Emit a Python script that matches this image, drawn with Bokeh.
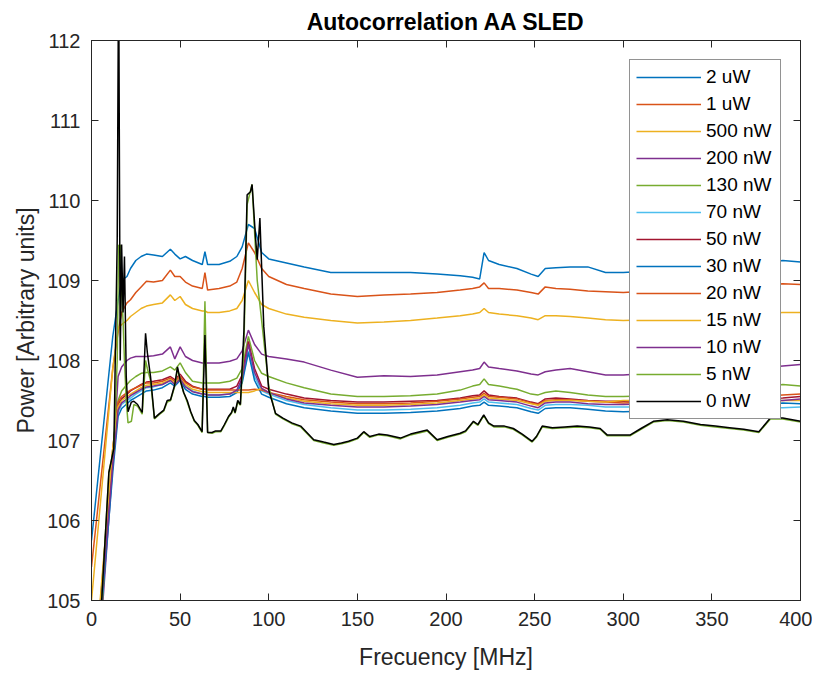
from bokeh.plotting import figure
from bokeh.models import LinearAxis, Legend, LegendItem, FixedTicker, Range1d
from bokeh.embed import file_html
from bokeh.resources import INLINE

# ---------------- data ----------------
x_ticks = [0, 50, 100, 150, 200, 250, 300, 350, 400]
y_ticks = [105, 106, 107, 108, 109, 110, 111, 112]

labels = ["2 uW", "1 uW", "500 nW", "200 nW", "130 nW", "70 nW", "50 nW",
          "30 nW", "20 nW", "15 nW", "10 nW", "5 nW", "0 nW"]

# common frequency grid (MHz) for the smoother traces
freq = [0, 12, 15, 17, 20, 22, 25, 28, 31, 35,
        40, 44.5, 47, 50, 53, 57, 62.5, 64, 65.5, 72,
        78, 82, 85, 88.5, 92, 96, 100, 110, 120, 135,
        150, 165, 180, 195, 208, 215, 219, 221.5, 224, 230,
        240, 248, 252, 256, 262, 270, 280, 290, 300, 315,
        330, 345, 360, 375, 390, 400]

p_2uW = [105.75, 108.3, 108.75, 109.0, 109.05, 109.15, 109.25, 109.3, 109.33, 109.32,
         109.3, 109.39, 109.33, 109.27, 109.3, 109.25, 109.2, 109.36, 109.2, 109.2,
         109.24, 109.3, 109.42, 109.7, 109.65, 109.35, 109.27, 109.22, 109.17, 109.1,
         109.1, 109.1, 109.1, 109.08, 109.06, 109.04, 109.02, 109.35, 109.25, 109.2,
         109.15, 109.08, 109.05, 109.15, 109.16, 109.17, 109.17, 109.1, 109.1, 109.12,
         109.14, 109.16, 109.18, 109.2, 109.25, 109.23]

p_1uW = [105.42, 107.9, 108.35, 108.6, 108.72, 108.76, 108.85, 108.92, 108.99, 108.98,
         109.0, 109.13, 109.05, 109.05, 108.98, 108.93, 108.9, 109.1, 108.88, 108.9,
         108.93, 108.98, 109.15, 109.47, 109.35, 109.15, 109.05, 108.95, 108.9, 108.83,
         108.8, 108.82, 108.83, 108.85, 108.88, 108.9, 108.92, 108.97, 108.9, 108.9,
         108.88, 108.85, 108.83, 108.92, 108.9, 108.89, 108.87, 108.86, 108.85, 108.87,
         108.88, 108.9, 108.92, 108.94, 108.96, 108.95]

p_500nW = [105.0, 107.9, 108.4, 108.45, 108.5, 108.55, 108.6, 108.65, 108.68, 108.7,
           108.72, 108.82, 108.75, 108.8, 108.7, 108.65, 108.62, 108.62, 108.6, 108.6,
           108.62, 108.65, 108.75, 109.0, 108.85, 108.7, 108.65, 108.58, 108.54, 108.5,
           108.47, 108.48, 108.5, 108.53, 108.56, 108.58, 108.6, 108.65, 108.6, 108.58,
           108.56, 108.53, 108.51, 108.56, 108.56, 108.55, 108.53, 108.51, 108.5, 108.51,
           108.52, 108.54, 108.56, 108.58, 108.6, 108.6]

p_200nW = [103.0, 106.7, 107.8, 107.92, 108.0, 108.03, 108.05, 108.05, 108.05, 108.06,
           108.08, 108.17, 108.02, 108.17, 108.05, 108.0, 107.97, 107.97, 107.97, 107.97,
           107.99, 108.02, 108.12, 108.38, 108.2, 108.08, 108.05, 108.02, 107.98, 107.88,
           107.79, 107.81, 107.8, 107.82, 107.86, 107.88, 107.9, 107.98, 107.92, 107.9,
           107.87, 107.83, 107.82, 107.86, 107.88, 107.9, 107.86, 107.82, 107.82, 107.84,
           107.85, 107.87, 107.88, 107.9, 107.93, 107.95]

p_130nW = [103.0, 106.9, 107.5, 107.62, 107.7, 107.75, 107.8, 107.84, 107.85, 107.85,
           107.87, 107.92, 107.88, 107.97, 107.85, 107.74, 107.72, 107.72, 107.72, 107.72,
           107.74, 107.78, 107.9, 108.3, 108.0, 107.84, 107.8, 107.72, 107.66, 107.58,
           107.55, 107.55, 107.56, 107.58, 107.63, 107.68, 107.7, 107.77, 107.7, 107.68,
           107.64, 107.58, 107.57, 107.6, 107.62, 107.6, 107.57, 107.55, 107.55, 107.56,
           107.57, 107.6, 107.62, 107.65, 107.7, 107.68]

p_70nW = [103.5, 106.7, 107.35, 107.45, 107.5, 107.53, 107.58, 107.62, 107.66, 107.67,
          107.7, 107.76, 107.72, 107.78, 107.68, 107.62, 107.58, 107.58, 107.57, 107.57,
          107.58, 107.62, 107.75, 108.12, 107.8, 107.62, 107.58, 107.5, 107.45, 107.41,
          107.38, 107.38, 107.39, 107.41, 107.44, 107.47, 107.48, 107.52, 107.48, 107.47,
          107.45, 107.4, 107.38, 107.44, 107.45, 107.45, 107.44, 107.42, 107.42, 107.42,
          107.42, 107.42, 107.42, 107.41, 107.41, 107.42]

p_50nW = [103.5, 106.8, 107.45, 107.52, 107.58, 107.62, 107.66, 107.7, 107.73, 107.74,
          107.76, 107.8, 107.76, 107.83, 107.74, 107.68, 107.64, 107.64, 107.64, 107.64,
          107.64, 107.68, 107.82, 108.24, 107.9, 107.68, 107.64, 107.58, 107.53, 107.5,
          107.48, 107.48, 107.49, 107.5, 107.53, 107.56, 107.57, 107.62, 107.57, 107.55,
          107.53, 107.48, 107.46, 107.52, 107.53, 107.52, 107.5, 107.49, 107.49, 107.5,
          107.5, 107.51, 107.52, 107.52, 107.53, 107.55]

p_30nW = [103.4, 106.6, 107.3, 107.4, 107.46, 107.5, 107.54, 107.58, 107.62, 107.63,
          107.66, 107.72, 107.68, 107.75, 107.64, 107.58, 107.55, 107.55, 107.54, 107.54,
          107.55, 107.6, 107.72, 108.1, 107.75, 107.58, 107.54, 107.46, 107.41, 107.37,
          107.34, 107.34, 107.35, 107.37, 107.4, 107.43, 107.44, 107.48, 107.44, 107.43,
          107.41, 107.36, 107.34, 107.4, 107.41, 107.41, 107.39, 107.37, 107.36, 107.37,
          107.38, 107.4, 107.42, 107.44, 107.47, 107.46]

p_20nW = [103.6, 106.9, 107.48, 107.55, 107.6, 107.63, 107.66, 107.69, 107.72, 107.72,
          107.74, 107.78, 107.74, 107.8, 107.72, 107.67, 107.64, 107.64, 107.63, 107.63,
          107.63, 107.63, 107.63, 107.63, 107.64, 107.63, 107.6, 107.55, 107.51, 107.48,
          107.46, 107.46, 107.47, 107.49, 107.52, 107.54, 107.55, 107.59, 107.55, 107.54,
          107.52, 107.47, 107.45, 107.5, 107.51, 107.51, 107.49, 107.48, 107.47, 107.48,
          107.5, 107.52, 107.54, 107.55, 107.57, 107.58]

p_15nW = [103.7, 106.9, 107.42, 107.5, 107.55, 107.58, 107.62, 107.66, 107.69, 107.7,
          107.72, 107.76, 107.72, 107.77, 107.7, 107.64, 107.61, 107.61, 107.6, 107.6,
          107.6, 107.6, 107.6, 107.6, 107.62, 107.65, 107.6, 107.53, 107.49, 107.46,
          107.44, 107.44, 107.45, 107.47, 107.5, 107.52, 107.53, 107.57, 107.53, 107.52,
          107.5, 107.46, 107.44, 107.49, 107.5, 107.5, 107.49, 107.48, 107.5, 107.5,
          107.5, 107.5, 107.5, 107.5, 107.5, 107.5]

p_10nW = [103.5, 106.7, 107.38, 107.47, 107.52, 107.56, 107.6, 107.64, 107.67, 107.68,
          107.7, 107.75, 107.7, 107.77, 107.67, 107.61, 107.58, 107.58, 107.57, 107.57,
          107.58, 107.63, 107.78, 108.2, 107.85, 107.65, 107.6, 107.52, 107.47, 107.44,
          107.42, 107.42, 107.43, 107.45, 107.48, 107.5, 107.51, 107.55, 107.51, 107.5,
          107.48, 107.43, 107.41, 107.47, 107.48, 107.48, 107.46, 107.45, 107.45, 107.46,
          107.47, 107.48, 107.49, 107.5, 107.5, 107.52]

# finer frequency grid (MHz) for the lowest-power traces
freq_fine = [0, 6, 9.8, 12.6, 14.5, 15.3, 16.2, 17.0, 17.8, 18.6,
             19.6, 20.6, 22.5, 23.9, 26, 28.6, 30.5, 31.5, 33.3, 35.5,
             38, 40.8, 42.7, 44.6, 47, 48.5, 50.2, 52, 54, 56,
             58, 60, 62.4, 64, 65.5, 68, 70, 73, 75, 77.3,
             79, 80, 81, 82.5, 84, 86, 87.8, 89.7, 90.6, 92.5,
             93.5, 95, 97.2, 100, 103.8, 108, 113, 118, 125.4, 131,
             136.7, 141, 145, 150, 153.6, 157, 162, 166.8, 174.3, 180,
             189.4, 195, 201, 208, 211, 215.5, 218, 221.3, 224, 227,
             233, 238, 243, 248.6, 251, 254.3, 260, 267, 274, 281,
             287, 290.9, 297, 304, 310, 317, 324.8, 334, 343.6, 352,
             360, 368, 376.5, 383, 390, 400]

p_5nW = [102.9, 105.1, 106.6, 106.9, 108.0, 109.44, 109.44, 108.85, 108.5, 108.0,
         107.5, 107.22, 107.24, 107.45, 107.43, 107.33, 108.0, 107.9, 107.75, 107.27,
         107.32, 107.37, 107.48, 107.5, 107.68, 107.9, 107.74, 107.6, 107.48, 107.35,
         107.24, 107.19, 107.1, 108.74, 107.1, 107.09, 107.11, 107.11, 107.19, 107.29,
         107.34, 107.4, 107.34, 107.48, 107.44, 108.2, 109.95, 110.12, 110.2, 109.4,
         109.0, 108.7, 108.25, 107.68, 107.33, 107.27, 107.21, 107.17, 107.0, 106.97,
         106.94, 106.96, 106.98, 107.02, 107.1, 107.04, 107.07, 107.06, 107.02, 107.07,
         107.12, 107.0, 107.04, 107.08, 107.11, 107.23, 107.19, 107.31, 107.21, 107.17,
         107.17, 107.14, 107.07, 106.98, 107.04, 107.17, 107.15, 107.16, 107.17, 107.16,
         107.14, 107.06, 107.06, 107.06, 107.14, 107.23, 107.25, 107.23, 107.19, 107.17,
         107.15, 107.13, 107.1, 107.27, 107.27, 107.23]

p_0nW = [102.9, 105.1, 106.6, 106.9, 109.5, 113.0, 108.0, 109.45, 108.6, 109.3,
         107.8, 107.36, 107.48, 107.49, 107.45, 107.35, 108.34, 108.1, 107.8, 107.28,
         107.33, 107.38, 107.5, 107.51, 107.7, 107.92, 107.74, 107.6, 107.5, 107.36,
         107.25, 107.2, 107.11, 108.32, 107.1, 107.1, 107.12, 107.12, 107.2, 107.3,
         107.35, 107.42, 107.35, 107.5, 107.45, 108.38, 110.07, 110.11, 110.2, 109.55,
         109.26, 109.78, 108.42, 107.63, 107.34, 107.28, 107.22, 107.18, 107.01, 106.98,
         106.95, 106.97, 106.99, 107.03, 107.11, 107.05, 107.08, 107.07, 107.03, 107.08,
         107.13, 107.01, 107.05, 107.09, 107.12, 107.24, 107.2, 107.32, 107.22, 107.18,
         107.18, 107.15, 107.08, 106.99, 107.05, 107.18, 107.16, 107.17, 107.18, 107.17,
         107.15, 107.07, 107.07, 107.07, 107.15, 107.24, 107.26, 107.24, 107.2, 107.18,
         107.16, 107.14, 107.11, 107.28, 107.28, 107.24]

series = [p_2uW, p_1uW, p_500nW, p_200nW, p_130nW, p_70nW, p_50nW,
          p_30nW, p_20nW, p_15nW, p_10nW, p_5nW, p_0nW]
xs = [freq] * 11 + [freq_fine, freq_fine]

colors = ["#0072BD", "#D95319", "#EDB120", "#7E2F8E", "#77AC30", "#4DBEEE", "#A2142F",
          "#0072BD", "#D95319", "#EDB120", "#7E2F8E", "#77AC30", "#000000"]

# ---------------- figure ----------------
FONT = "Liberation Sans"
AX = "#262626"

p = figure(width=812, height=672, output_backend="svg", toolbar_location=None,
           x_range=Range1d(0, 400), y_range=Range1d(105, 112),
           min_border_left=91, min_border_right=12, min_border_top=40, min_border_bottom=71,
           title="Autocorrelation AA SLED")
p.background_fill_color = "white"
p.border_fill_color = "white"
p.outline_line_color = AX
p.outline_line_width = 1
p.xgrid.visible = False
p.ygrid.visible = False

p.title.text_font = FONT
p.title.text_font_size = "23px"
p.title.text_font_style = "bold"
p.title.text_color = "#000000"
p.title.align = "center"
p.title.standoff = 11

def style_axis(ax, ticks, show_labels=True):
    ax.ticker = FixedTicker(ticks=ticks)
    ax.axis_line_color = AX
    ax.axis_line_width = 1
    ax.major_tick_line_color = AX
    ax.major_tick_in = 7
    ax.major_tick_out = 0
    ax.minor_tick_in = 0
    ax.minor_tick_out = 0
    ax.major_label_text_font = FONT
    ax.major_label_text_color = AX
    ax.major_label_text_font_size = "20px"
    if not show_labels:
        ax.major_label_overrides = {t: "" for t in ticks}
        ax.major_label_standoff = 0

xa = p.xaxis[0]
ya = p.yaxis[0]
style_axis(xa, x_ticks)
style_axis(ya, y_ticks)
xa.major_label_standoff = 11
ya.major_label_standoff = 11
xa.axis_label = "Frecuency [MHz]"
ya.axis_label = "Power [Arbitrary units]"
for a in (xa, ya):
    a.axis_label_text_font = FONT
    a.axis_label_text_font_size = "23px"
    a.axis_label_text_font_style = "normal"
    a.axis_label_text_color = AX
xa.axis_label_standoff = 15
ya.axis_label_standoff = 5

top_ax = LinearAxis()
style_axis(top_ax, x_ticks, show_labels=False)
p.add_layout(top_ax, "above")
right_ax = LinearAxis()
style_axis(right_ax, y_ticks, show_labels=False)
p.add_layout(right_ax, "right")

items = []
for lab, xv, yv, c in zip(labels, xs, series, colors):
    r = p.line(xv, yv, line_color=c, line_width=1.5)
    items.append(LegendItem(label=lab, renderers=[r]))

legend = Legend(items=items, location="top_right", margin=19,
                border_line_color=AX, border_line_width=1,
                background_fill_color="white", background_fill_alpha=1.0,
                label_text_font=FONT, label_text_font_size="19px", label_text_color="#000000",
                glyph_width=65, glyph_height=20, label_height=21, label_width=68,
                spacing=5, padding=6, label_standoff=5)
p.add_layout(legend)

open("out.html", "w").write(file_html(p, INLINE))
